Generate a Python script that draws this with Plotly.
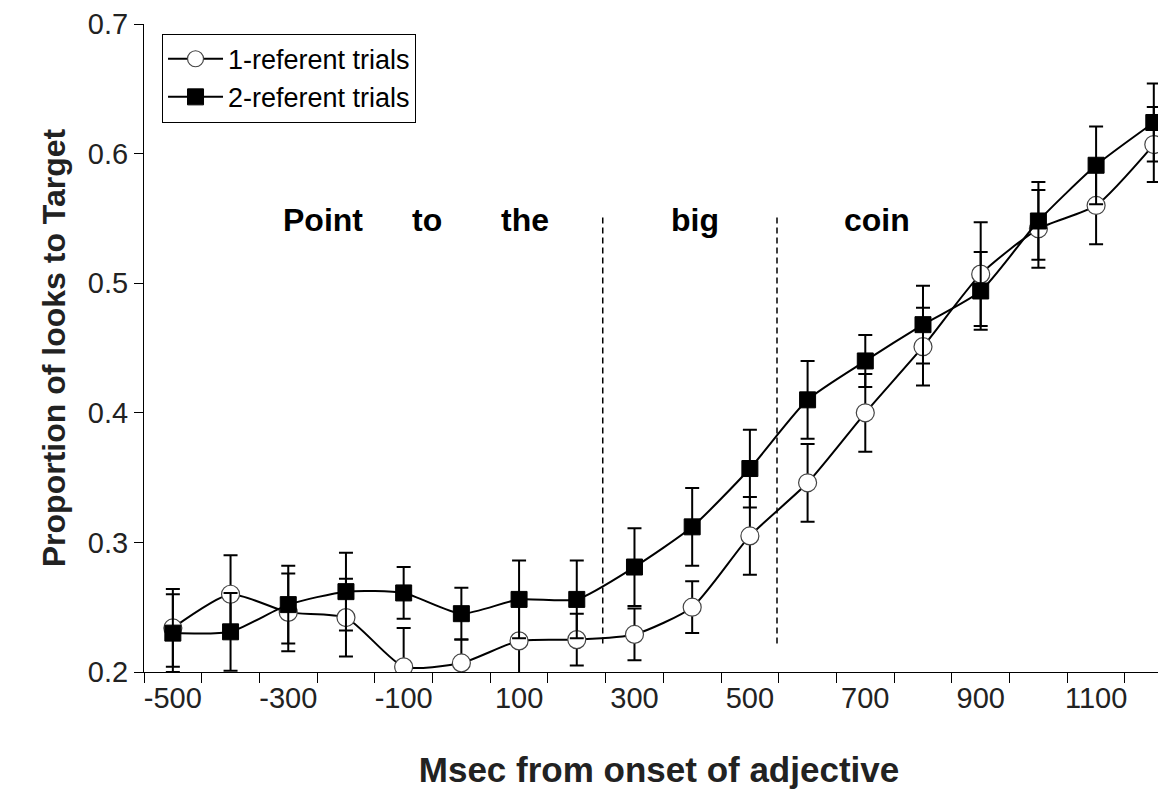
import plotly.graph_objects as go

msec = [-500, -400, -300, -200, -100, 0, 100, 200, 300, 400, 500, 600, 700, 800, 900, 1000, 1100, 1200]
one_ref = [0.234, 0.260, 0.246, 0.242, 0.204, 0.207, 0.224, 0.225, 0.229, 0.250, 0.305, 0.346, 0.400, 0.451, 0.507, 0.542, 0.560, 0.607]
one_ref_err = [0.030, 0.030, 0.030, 0.030, 0.030, 0.018, 0.030, 0.020, 0.020, 0.020, 0.030, 0.030, 0.030, 0.030, 0.040, 0.030, 0.030, 0.029]
two_ref = [0.230, 0.231, 0.252, 0.262, 0.261, 0.245, 0.256, 0.256, 0.281, 0.312, 0.357, 0.410, 0.440, 0.468, 0.494, 0.548, 0.591, 0.624]
two_ref_err = [0.030, 0.030, 0.030, 0.030, 0.020, 0.020, 0.030, 0.030, 0.030, 0.030, 0.030, 0.030, 0.020, 0.030, 0.030, 0.030, 0.030, 0.030]
x_tick_vals = [-500, -300, -100, 100, 300, 500, 700, 900, 1100]
y_tick_vals = [0.2, 0.3, 0.4, 0.5, 0.6, 0.7]
words = ["Point", "to", "the", "big", "coin"]
word_x = [-240, -60, 110, 405, 720]
boundaries = [245, 547]

FONT = "Liberation Sans, Arial, sans-serif"

fig = go.Figure()
fig.add_trace(go.Scatter(
    x=msec, y=one_ref, name="1-referent trials", mode="lines+markers",
    line=dict(color="black", width=2, shape="spline", smoothing=0.6),
    marker=dict(symbol="circle", size=18, color="white", line=dict(color="#444", width=1.2)),
    error_y=dict(type="data", array=one_ref_err, color="black", thickness=2, width=7),
))
fig.add_trace(go.Scatter(
    x=msec, y=two_ref, name="2-referent trials", mode="lines+markers",
    line=dict(color="black", width=2, shape="spline", smoothing=0.6),
    marker=dict(symbol="square", size=16, color="black", line=dict(color="black", width=1)),
    error_y=dict(type="data", array=two_ref_err, color="black", thickness=2, width=7),
))

for b in boundaries:
    fig.add_shape(type="line", xref="x", yref="y", x0=b, x1=b, y0=0.222, y1=0.552,
                  line=dict(color="black", width=1.5, dash="6px,4px"))

for w, wx in zip(words, word_x):
    fig.add_annotation(x=wx, y=0.549, xref="x", yref="y", text="<b>%s</b>" % w,
                       showarrow=False, font=dict(family=FONT, size=32, color="black"))

fig.update_layout(
    width=1166, height=798,
    margin=dict(l=136, r=0, t=11, b=134),
    plot_bgcolor="white", paper_bgcolor="white",
    font=dict(family=FONT, color="black"),
    showlegend=True,
    legend=dict(x=0.0175, y=0.985, xanchor="left", yanchor="top",
                bordercolor="black", borderwidth=1, bgcolor="white",
                font=dict(family=FONT, size=27, color="black"),
                tracegroupgap=0, itemwidth=55),
    xaxis=dict(
        range=[-550, 1235], showgrid=False, zeroline=False,
        showline=True, linecolor="black", linewidth=1,
        tickmode="array", tickvals=x_tick_vals, ticktext=[str(v) for v in x_tick_vals],
        ticks="", tickfont=dict(family=FONT, size=29, color="#222"),
        ticklabeloverflow="allow",
        minor=dict(tick0=-550, dtick=100, ticks="outside", ticklen=10, tickcolor="black", tickwidth=1, showgrid=False),
        title=dict(text="<b>Msec from onset of adjective</b>", font=dict(family=FONT, size=35, color="#222"), standoff=44),
    ),
    yaxis=dict(
        range=[0.2, 0.7], showgrid=False, zeroline=False,
        showline=True, linecolor="black", linewidth=1,
        tickmode="array", tickvals=y_tick_vals, ticktext=["%.1f" % v for v in y_tick_vals],
        ticks="outside", ticklen=9, tickcolor="black", tickwidth=1,
        tickfont=dict(family=FONT, size=29, color="#222"),
        ticklabeloverflow="allow",
        title=dict(text="<b>Proportion of looks to Target</b>", font=dict(family=FONT, size=32, color="#222"), standoff=12),
    ),
)

fig.write_html("out.html")
